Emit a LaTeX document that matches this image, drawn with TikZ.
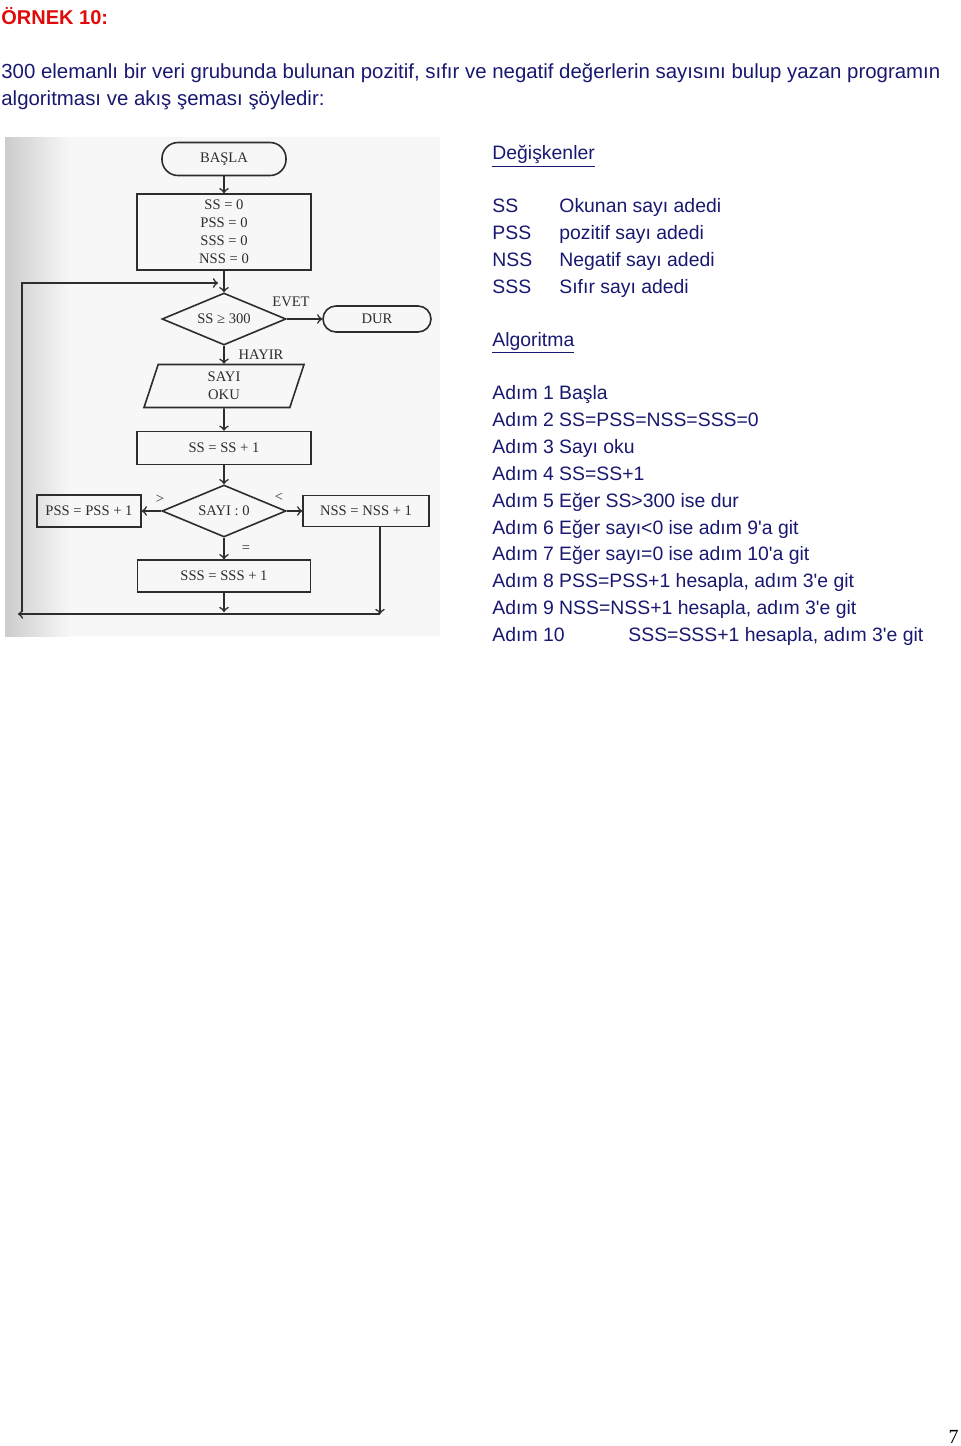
\documentclass[tikz,border=0pt]{standalone}
\usepackage{fontspec}
\setmainfont{Liberation Sans}[Ligatures=TeXOff]
\newfontfamily\chartfont{Liberation Serif}
\usetikzlibrary{shapes.geometric,positioning}
\definecolor{inkblue}{RGB}{24,24,112}
\definecolor{headred}{RGB}{225,10,10}
\definecolor{scanink}{RGB}{45,45,45}
\tikzstyle{txt}=[anchor=base west,inner sep=0pt,text=inkblue,font=\fontsize{9.7}{12}\selectfont]
\tikzstyle{chart}=[draw=scanink,line width=0.8pt,text=scanink,inner sep=1pt,font=\chartfont\fontsize{7.3}{9}\selectfont]
\tikzstyle{terminal}=[chart,rounded corners=8pt]
\tikzstyle{process}=[chart,rectangle,align=center]
\tikzstyle{decision}=[chart,diamond,aspect=2.4,inner sep=0.5pt,minimum width=62pt,minimum height=26pt]
\tikzstyle{io}=[chart,trapezium,trapezium left angle=66,trapezium right angle=114,trapezium stretches body,minimum width=80pt,minimum height=21.5pt,align=center]
\tikzstyle{lbl}=[inner sep=0pt,text=scanink,font=\chartfont\fontsize{7.3}{9}\selectfont]
\tikzstyle{flow}=[draw=scanink,line width=0.8pt]

\begin{document}
\begin{tikzpicture}[x=0.5pt,y=-0.5pt]
\useasboundingbox (0,0) rectangle (960,1446);
\node[anchor=base west,inner sep=0pt,text=headred,font=\bfseries\fontsize{10}{12}\selectfont] (title) at (1,24) {ÖRNEK 10:};
\node[txt,font=\fontsize{10.2}{12}\selectfont] (intro1) at (1,78) {300 elemanlı bir veri grubunda bulunan pozitif, sıfır ve negatif değerlerin sayısını bulup yazan programın};
\node[txt,font=\fontsize{10.2}{12}\selectfont] (intro2) at (1,105) {algoritması ve akış şeması şöyledir:};

\shade[left color=gray!40,right color=gray!6] (5,137) rectangle (70,636);
\fill[gray!6] (70,137) rectangle (440,636);

\node[terminal,minimum width=62pt,minimum height=16.5pt] (basla) at (224,159) {BAŞLA};
\node[process,minimum width=87pt,minimum height=38pt] (init) at (224,232) {SS = 0\\PSS = 0\\SSS = 0\\NSS = 0};
\node[decision] (cond1) at (224,319) {SS ≥ 300};
\node[terminal,rounded corners=6.5pt,minimum width=54pt,minimum height=13pt] (dur) at (377,319) {DUR};
\node[io] (oku) at (224,386) {SAYI\\OKU};
\node[process,minimum width=87pt,minimum height=16.5pt] (inc) at (224,448) {SS = SS + 1};
\node[decision] (cond2) at (224,511) {SAYI : 0};
\node[process,minimum width=52pt,minimum height=16pt] (pos) at (89,511) {PSS = PSS + 1};
\node[process,minimum width=63pt,minimum height=15.5pt] (neg) at (366,511) {NSS = NSS + 1};
\node[process,minimum width=86.5pt,minimum height=16pt] (zero) at (224,576) {SSS = SSS + 1};

\node[lbl] (evet) at (291,302) {EVET};
\node[lbl] (hayir) at (261,355) {HAYIR};
\node[lbl] (gt) at (160,499) {>};
\node[lbl] (lt) at (279,497) {<};
\node[lbl] (eq) at (246,549) {=};

\coordinate (negout) at (380,527);
\coordinate (joinR) at (380,614);
\coordinate (joinL) at (18,614);
\coordinate (zeroend) at (224,612);
\coordinate (loopB) at (22,612);
\coordinate (loopT) at (22,283);
\coordinate (loopE) at (218,283);

\draw[flow,->] (basla) -- (init);
\draw[flow,->] (init) -- (cond1);
\draw[flow,->] (cond1) -- (dur);
\draw[flow,->] (cond1) -- (oku);
\draw[flow,->] (oku) -- (inc);
\draw[flow,->] (inc) -- (cond2);
\draw[flow,->] (cond2) -- (pos);
\draw[flow,->] (cond2) -- (neg);
\draw[flow,->] (cond2) -- (zero);
\draw[flow,->] (zero) -- (zeroend);
\draw[flow,->] (negout) -- (joinR);
\draw[flow,->] (joinR) -- (joinL);
\draw[flow,->] (loopB) -- (loopT) -- (loopE);

\node[txt] (varhead) at (492,159) {\underline{Değişkenler}};
\node[txt] (v1) at (492,212) {SS};
\node[txt] (d1) at (559,212) {Okunan sayı adedi};
\node[txt] (v2) at (492,239) {PSS};
\node[txt] (d2) at (559,239) {pozitif sayı adedi};
\node[txt] (v3) at (492,266) {NSS};
\node[txt] (d3) at (559,266) {Negatif sayı adedi};
\node[txt] (v4) at (492,293) {SSS};
\node[txt] (d4) at (559,293) {Sıfır sayı adedi};

\node[txt] (alghead) at (492,346) {\underline{Algoritma}};
\node[txt] (s1) at (492,399) {Adım 1 Başla};
\node[txt] (s2) at (492,426) {Adım 2 SS=PSS=NSS=SSS=0};
\node[txt] (s3) at (492,453) {Adım 3 Sayı oku};
\node[txt] (s4) at (492,480) {Adım 4 SS=SS+1};
\node[txt] (s5) at (492,507) {Adım 5 Eğer SS>300 ise dur};
\node[txt] (s6) at (492,534) {Adım 6 Eğer sayı<0 ise adım 9'a git};
\node[txt] (s7) at (492,560) {Adım 7 Eğer sayı=0 ise adım 10'a git};
\node[txt] (s8) at (492,587) {Adım 8 PSS=PSS+1 hesapla, adım 3'e git};
\node[txt] (s9) at (492,614) {Adım 9 NSS=NSS+1 hesapla, adım 3'e git};
\node[txt] (s10) at (492,641) {Adım 10};
\node[txt] (s10b) at (628,641) {SSS=SSS+1 hesapla, adım 3'e git};

\node[anchor=base east,inner sep=0pt,font=\chartfont\fontsize{10}{12}\selectfont] (page) at (959,1443) {7};
\end{tikzpicture}
\end{document}
